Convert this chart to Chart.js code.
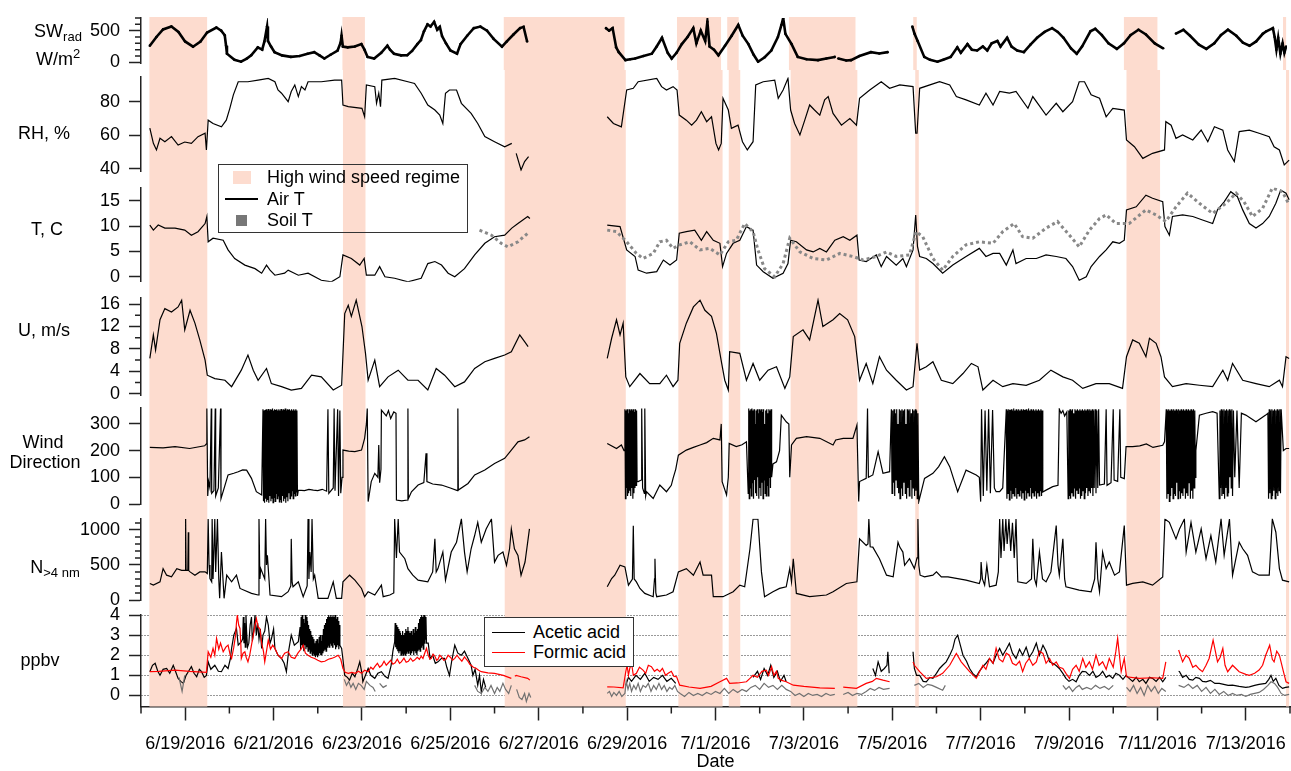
<!DOCTYPE html>
<html>
<head>
<meta charset="utf-8">
<script src="https://cdn.jsdelivr.net/npm/chart.js@4.4.0/dist/chart.umd.min.js"></script>
<style>
  body { margin: 0; background: #fff; width: 1291px; height: 771px; overflow: hidden; position: relative;
         font-family: "Liberation Sans", Arial, Helvetica, sans-serif; color: #000; }
  canvas { position: absolute; left: 0; z-index: 1; }
  .lab { position: absolute; font-size: 18px; line-height: 1; transform: translate(-50%, -50%); white-space: nowrap; z-index: 2; }
  .lab .sub { font-size: 13px; position: relative; top: 4px; }
  .lab .sup { font-size: 13px; position: relative; top: -7px; }
  .box { position: absolute; box-sizing: border-box; border: 1px solid #333; z-index: 2; }
  .lt { position: absolute; font-size: 18px; line-height: 1; transform: translateY(-50%); white-space: nowrap; z-index: 3; }
  .mk { position: absolute; z-index: 3; }
</style>
</head>
<body>
<canvas id="cSW"></canvas>
<canvas id="cRH"></canvas>
<canvas id="cT"></canvas>
<canvas id="cU"></canvas>
<canvas id="cWD"></canvas>
<canvas id="cN"></canvas>
<canvas id="cP"></canvas>

<div class="lab" style="left:58px;top:31px">SW<span class="sub">rad</span></div>
<div class="lab" style="left:58px;top:59px">W/m<span class="sup">2</span></div>
<div class="lab" style="left:44px;top:133px">RH, %</div>
<div class="lab" style="left:47px;top:229px">T, C</div>
<div class="lab" style="left:44px;top:330px">U, m/s</div>
<div class="lab" style="left:43px;top:442px">Wind</div>
<div class="lab" style="left:45px;top:462px">Direction</div>
<div class="lab" style="left:55px;top:567px">N<span class="sub">&gt;4 nm</span></div>
<div class="lab" style="left:40px;top:660px">ppbv</div>

<div class="box" style="left:218px;top:164px;width:250px;height:69px;"></div>
<div class="mk" style="left:233px;top:171px;width:18px;height:13px;background:#fddccf"></div>
<div class="lt" style="left:267px;top:177px">High wind speed regime</div>
<div class="mk" style="left:225px;top:198px;width:33px;height:1.5px;background:#000"></div>
<div class="lt" style="left:267px;top:199px">Air T</div>
<div class="mk" style="left:236px;top:215px;width:11px;height:11px;background:#777"></div>
<div class="lt" style="left:267px;top:220px">Soil T</div>

<div class="box" style="left:484px;top:617px;width:150px;height:50px;background:#fff"></div>
<div class="mk" style="left:492px;top:631.5px;width:33px;height:1.5px;background:#000"></div>
<div class="lt" style="left:533px;top:632px">Acetic acid</div>
<div class="mk" style="left:492px;top:651.5px;width:33px;height:1.5px;background:#f00"></div>
<div class="lt" style="left:533px;top:652px">Formic acid</div>

<script>
// time axis: days since 6/18/2016 00:00
const xTickDays = [1, 3, 5, 7, 9, 11, 13, 15, 17, 19, 21, 23, 25];
const xTickLabels = ["6/19/2016", "6/21/2016", "6/23/2016", "6/25/2016", "6/27/2016", "6/29/2016", "7/1/2016",
  "7/3/2016", "7/5/2016", "7/7/2016", "7/9/2016", "7/11/2016", "7/13/2016"];
const xMinorDays = [0, 2, 4, 6, 8, 10, 12, 14, 16, 18, 20, 22, 24, 26];

const highWindRegimes = [[0.19, 1.5], [4.57, 5.08], [8.23, 10.97], [12.16, 13.16], [13.3, 13.56],
  [14.7, 16.21], [17.52, 17.6], [22.3, 23.06], [25.91, 25.98]];

const swTicks = [0, 500], swMinor = [100, 200, 300, 400, 600, 700];
const rhTicks = [40, 60, 80];
const tTicks = [0, 5, 10, 15];
const uTicks = [0, 4, 8, 12, 16], uMinor = [2, 6, 10, 14];
const wdTicks = [0, 100, 200, 300];
const nTicks = [0, 500, 1000], nMinor = [100, 200, 300, 400, 600, 700, 800, 900, 1100];
const ppbvTicks = [0, 1, 2, 3, 4];

const swRad = [[0.2,262],[0.35,400],[0.5,520],[0.69,565],[0.85,480],[1.0,330],[1.18,247],[1.35,330],[1.5,470],
  [1.71,550],[1.82,500],[1.9,428],[1.93,262],[1.95,136],[2.12,40],[2.27,10],[2.4,60],[2.5,112],[2.65,237],[2.75,200],
  [2.8,330],[2.86,565],[2.88,338],[2.95,250],[3.03,161],[3.2,110],[3.4,86],[3.6,100],[3.78,136],[3.93,161],[4.05,110],
  [4.16,60],[4.3,120],[4.46,186],[4.53,313],[4.55,420],[4.58,250],[4.69,237],[4.85,250],[5.0,288],[5.07,200],[5.14,86],
  [5.29,60],[5.45,150],[5.59,262],[5.65,200],[5.74,136],[5.9,110],[6.04,111],[6.15,180],[6.27,288],[6.35,350],[6.42,490],
  [6.5,600],[6.57,565],[6.65,640],[6.72,515],[6.78,560],[6.83,414],[6.92,300],[7.02,187],[7.17,136],[7.25,288],[7.4,420],
  [7.55,540],[7.7,565],[7.85,500],[8.0,370],[8.19,247],[8.3,330],[8.45,439],[8.6,540],[8.68,560],[8.76,330],[8.8,null],
  [10.55,540],[10.62,500],[10.7,540],[10.78,237],[10.84,161],[10.99,35],[11.1,50],[11.21,60],[11.4,100],[11.59,136],
  [11.7,250],[11.82,388],[11.95,150],[12.04,60],[12.15,150],[12.27,288],[12.4,400],[12.53,540],[12.6,300],[12.7,500],
  [12.8,338],[12.85,640],[12.9,250],[13.0,200],[13.1,111],[13.25,262],[13.4,420],[13.55,590],[13.65,420],[13.78,288],
  [13.9,120],[14.0,10],[14.15,80],[14.3,186],[14.45,400],[14.53,590],[14.57,700],[14.62,450],[14.76,288],[14.9,86],
  [15.1,50],[15.36,35],[15.55,60],[15.74,86],[15.76,null],[15.82,60],[16.0,30],[16.11,35],[16.3,100],[16.56,161],
  [16.75,140],[16.94,161],[16.98,null],
  [17.5,565],[17.55,450],[17.62,338],[17.77,86],[17.9,40],[18.07,10],[18.2,40],[18.37,86],[18.52,237],[18.6,150],
  [18.75,288],[18.85,200],[18.97,187],[19.1,250],[19.2,187],[19.3,300],[19.43,338],[19.5,250],[19.65,388],[19.75,250],
  [19.88,187],[20.03,161],[20.18,280],[20.33,388],[20.5,480],[20.67,540],[20.8,480],[20.93,388],[21.1,220],[21.23,136],
  [21.35,250],[21.54,490],[21.65,530],[21.8,430],[21.95,300],[22.14,212],[22.3,300],[22.45,430],[22.63,515],[22.8,440],
  [23.0,300],[23.19,222],[23.22,null],[23.48,454],[23.65,515],[23.8,420],[24.0,280],[24.17,212],[24.35,300],[24.5,430],
  [24.66,515],[24.85,420],[25.0,310],[25.15,262],[25.3,330],[25.45,450],[25.53,490],[25.68,540],[25.72,400],[25.76,200],
  [25.8,388],[25.85,136],[25.9,300],[25.94,150],[25.98,250]];

const relHum = [[0.2,64.3],[0.28,55.2],[0.35,51.3],[0.43,58.2],[0.54,56.2],[0.69,59.2],[0.84,54.2],[0.99,56],[1.14,55.2],
  [1.29,59.2],[1.45,61.2],[1.48,51.3],[1.52,69],[1.63,67],[1.82,65],[1.93,69],[2.01,76],[2.09,84],[2.2,91.8],[2.42,91.8],
  [2.65,92.8],[2.88,93.8],[3.03,91.8],[3.1,86.9],[3.18,85],[3.33,80],[3.4,86],[3.48,89.9],[3.56,83],[3.63,88.9],
  [3.71,86.9],[3.78,91.8],[4.08,91.8],[4.38,92.8],[4.54,92.8],[4.57,78],[4.69,77],[5.0,76],[5.06,71],[5.1,89.9],
  [5.29,88.9],[5.33,79],[5.38,85],[5.42,77],[5.45,92.8],[5.74,93.8],[6.04,91.8],[6.19,90.8],[6.34,85],[6.49,78],
  [6.65,75],[6.76,72],[6.83,67],[6.89,85],[6.98,86.9],[7.14,86.9],[7.25,79],[7.47,73],[7.62,67],[7.78,59.2],[8.0,56.2],
  [8.23,53.2],[8.39,55.2],[8.42,null],[8.49,49.3],[8.6,39.4],[8.68,44.4],[8.77,47.3],[8.8,null],
  [10.55,71],[10.69,67],[10.87,65],[10.99,86.9],[11.14,87.9],[11.25,91.8],[11.67,93.8],[11.78,88.9],[11.89,86.9],
  [12.04,88.9],[12.13,86.9],[12.18,72],[12.34,69],[12.46,66],[12.57,69],[12.68,74],[12.8,68.1],[12.91,71],[13.01,55.2],
  [13.07,51.3],[13.13,55.2],[13.17,82],[13.29,75],[13.36,64.1],[13.51,66],[13.61,56.2],[13.72,51.3],[13.85,56.2],
  [13.91,89.9],[14.08,91.8],[14.34,92.8],[14.42,82],[14.53,86.9],[14.64,93.8],[14.7,75],[14.79,67],[14.91,60.2],
  [15.02,69],[15.13,78],[15.24,75],[15.36,72],[15.47,81],[15.55,83],[15.66,73],[15.85,66],[16.04,70],[16.19,66],
  [16.26,82],[16.49,86.9],[16.75,91.8],[16.94,87.9],[17.17,89.9],[17.47,88.9],[17.53,61.2],[17.56,61.2],[17.62,87.9],
  [18.07,91.8],[18.3,89.9],[18.45,83],[18.67,81],[18.97,78],[19.12,85],[19.28,78],[19.43,86],[19.65,85],[19.8,86],
  [20.07,76],[20.18,83],[20.48,72],[20.71,79],[20.86,74],[21.08,80],[21.23,91.8],[21.35,91.8],[21.5,84],[21.69,82],
  [21.84,71],[21.99,76],[22.25,75],[22.3,57.2],[22.48,53.2],[22.67,46.3],[22.89,49.3],[23.16,51.3],[23.19,68.1],
  [23.31,66],[23.42,58.2],[23.57,60.2],[23.8,57.2],[23.99,63.1],[24.14,56.2],[24.29,65.1],[24.48,63.1],[24.59,51.3],
  [24.74,44.4],[24.85,62.2],[25.08,63.1],[25.3,61.2],[25.53,59.2],[25.64,53.2],[25.76,51.3],[25.87,42.4],[25.98,45.3]];

const airT = [[0.2,10.2],[0.28,9.2],[0.39,10.2],[0.54,9.6],[0.77,9.6],[0.99,9.2],[1.14,8.2],[1.29,8.9],[1.45,10.5],
  [1.49,11.9],[1.52,6.9],[1.63,7.6],[1.86,7.2],[1.97,5.3],[2.12,3.6],[2.35,2.3],[2.58,1.6],[2.73,0.7],[2.84,2.3],
  [2.92,1.3],[3.03,0.3],[3.25,0.7],[3.33,1.3],[3.56,0.3],[3.78,0.7],[4.08,-0.7],[4.31,-1.0],[4.5,0],[4.57,4.3],
  [4.76,3.6],[4.95,2.3],[5.05,3.6],[5.1,0.3],[5.29,0.3],[5.4,2.0],[5.52,0],[5.74,-0.3],[6.04,-1.0],[6.34,-0.3],
  [6.49,2.6],[6.65,3.0],[6.8,2.3],[6.95,0.7],[7.1,0],[7.32,1.6],[7.55,4.3],[7.78,6.6],[8.0,7.9],[8.23,8.2],[8.39,9.6],
  [8.53,10.5],[8.75,11.9],[8.8,11.5],[8.82,null],
  [10.55,10.2],[10.84,9.9],[10.99,5.3],[11.18,4.0],[11.25,1.3],[11.44,0.7],[11.67,1.0],[11.82,3.3],[11.97,2.3],
  [12.12,3.3],[12.18,8.6],[12.34,8.9],[12.53,9.2],[12.68,7.2],[12.8,8.9],[12.95,7.2],[13.1,6.6],[13.16,2.0],[13.25,4.6],
  [13.4,6.6],[13.55,7.2],[13.7,9.9],[13.85,9.2],[13.93,2.3],[14.08,1.0],[14.3,-0.3],[14.53,0.7],[14.64,2.6],[14.7,7.2],
  [14.83,6.9],[15.06,5.3],[15.21,4.9],[15.36,5.6],[15.51,4.9],[15.7,7.2],[15.89,7.9],[16.04,7.2],[16.2,8.2],[16.25,3.3],
  [16.41,3.0],[16.64,4.3],[16.75,2.0],[16.87,4.0],[17.09,2.3],[17.24,3.6],[17.32,2.0],[17.47,5.3],[17.53,12.2],
  [17.57,6],[17.62,4.0],[17.77,3.6],[17.92,2.6],[18.14,0.7],[18.37,2.3],[18.67,4.0],[18.97,5.6],[19.12,4.0],[19.28,4.6],
  [19.43,4.6],[19.58,2.3],[19.73,5.3],[19.8,2.6],[20.03,3.6],[20.26,3.6],[20.48,4.3],[20.71,4.0],[20.93,3.6],[21.08,2.0],
  [21.23,-0.7],[21.39,0],[21.5,2.0],[21.69,4.0],[21.84,5.3],[21.99,6.9],[22.14,6.6],[22.25,7.2],[22.3,13.2],[22.52,13.8],
  [22.74,16.1],[22.89,15.5],[23.12,14.8],[23.17,9.9],[23.27,8.2],[23.34,11.9],[23.57,12.2],[23.8,11.9],[24.02,11.2],
  [24.25,10.5],[24.36,13.2],[24.51,14.8],[24.66,16.8],[24.81,15.8],[24.93,13.2],[25.08,10.5],[25.23,9.6],[25.38,10.5],
  [25.53,11.9],[25.68,14.5],[25.79,17.1],[25.91,16.5],[25.98,15.2]];

const soilT = [[7.66,9.2],[7.93,8.2],[8.15,6.6],[8.3,5.9],[8.53,6.9],[8.79,8.9],[8.82,null],
  [10.55,9.2],[10.76,8.9],[10.99,6.9],[11.21,4.6],[11.36,3.6],[11.59,4.6],[11.74,6.9],[11.89,7.2],[12.04,5.6],
  [12.19,6.3],[12.42,6.9],[12.65,5.3],[12.87,5.6],[13.1,4.3],[13.29,6.9],[13.47,7.2],[13.66,10.5],[13.85,8.9],
  [13.96,5.3],[14.11,1.6],[14.34,0],[14.53,2.6],[14.68,7.6],[14.91,4.9],[15.21,3.6],[15.51,3.3],[15.81,4.6],[16.11,4.0],
  [16.34,3.3],[16.64,4.0],[16.87,4.9],[17.09,4.0],[17.39,4.3],[17.54,8.9],[17.69,7.9],[17.92,3.6],[18.14,1.3],
  [18.37,4.0],[18.67,6.3],[18.97,6.9],[19.28,6.6],[19.5,8.9],[19.76,10.5],[19.95,7.9],[20.18,7.6],[20.48,9.6],
  [20.74,10.9],[21.01,8.2],[21.23,5.9],[21.46,9.2],[21.69,11.5],[21.84,12.2],[22.06,10.5],[22.36,10.5],[22.74,13.2],
  [22.97,12.2],[23.19,10.9],[23.42,13.8],[23.68,16.5],[23.95,14.5],[24.25,12.5],[24.55,14.5],[24.78,16.5],[24.96,14.8],
  [25.15,11.9],[25.38,13.5],[25.6,17.5],[25.83,16.8],[25.98,14.2]];

const windSpeed = [[0.2,6.3],[0.28,10.5],[0.33,7.8],[0.43,13.2],[0.54,15.2],[0.69,14.6],[0.84,15.5],[0.92,16.7],
  [0.99,11.4],[1.11,14.9],[1.22,12.6],[1.33,9.6],[1.45,6.0],[1.5,3.3],[1.67,2.7],[1.9,2.4],[2.05,1.25],[2.27,4.2],
  [2.42,6.9],[2.54,4.2],[2.65,2.4],[2.84,4.5],[2.95,1.8],[3.18,1.25],[3.4,0.65],[3.63,0.95],[3.86,3.3],[4.08,3.0],
  [4.35,0.65],[4.54,1.5],[4.61,14.3],[4.69,15.8],[4.76,13.8],[4.87,16.7],[5.0,12],[5.08,7.2],[5.14,2.4],[5.29,6.0],
  [5.4,1.25],[5.59,3.0],[5.82,4.2],[6.04,2.4],[6.27,2.4],[6.49,0.65],[6.68,4.5],[6.87,3.3],[7.1,1.25],[7.32,2.1],
  [7.55,4.5],[7.78,5.7],[8.0,6.3],[8.23,6.9],[8.38,7.5],[8.57,10.5],[8.68,9.3],[8.76,8.4],[8.82,null],
  [10.55,6.3],[10.65,9.9],[10.76,13.2],[10.84,10.5],[10.91,12.6],[10.97,3.0],[11.06,1.25],[11.29,3.6],[11.51,1.8],
  [11.74,1.8],[11.89,3.3],[12.04,1.25],[12.15,2.4],[12.19,9.0],[12.34,12.6],[12.5,15.5],[12.65,16.7],[12.76,14.9],
  [12.91,13.8],[13.02,10.8],[13.14,5.4],[13.21,2.4],[13.29,0.65],[13.32,7.5],[13.55,7.2],[13.7,2.4],[13.85,5.4],
  [14.0,2.4],[14.19,4.2],[14.38,4.8],[14.57,0.95],[14.68,3.0],[14.76,10.2],[14.98,11.4],[15.13,9.6],[15.32,16.7],
  [15.43,12],[15.66,13.2],[15.81,14.3],[15.99,13.2],[16.15,10.2],[16.21,6.0],[16.26,2.4],[16.41,5.4],[16.56,1.8],
  [16.71,6.6],[16.87,4.2],[17.09,2.4],[17.32,0.65],[17.47,1.25],[17.56,9.0],[17.62,4.2],[17.77,4.8],[17.92,5.7],
  [18.11,2.4],[18.37,1.8],[18.6,3.6],[18.79,5.4],[18.94,4.8],[19.05,0.65],[19.28,2.4],[19.5,1.25],[19.73,1.8],
  [20.03,1.5],[20.33,2.4],[20.59,4.2],[20.86,3.0],[21.08,2.4],[21.31,0.95],[21.61,1.8],[21.91,1.8],[22.21,0.95],
  [22.3,6.6],[22.44,9.6],[22.59,9.0],[22.74,6.6],[22.82,9.9],[22.97,9.0],[23.08,6.6],[23.16,3.0],[23.34,1.25],
  [23.65,1.8],[23.95,1.5],[24.25,1.25],[24.48,4.2],[24.59,2.4],[24.7,5.4],[24.93,2.4],[25.23,1.8],[25.53,1.25],
  [25.76,2.4],[25.83,1.25],[25.91,6.6],[25.98,6.3]];

const windDir = [[0.2,212],[0.5,210],[0.77,215],[1.1,208],[1.44,218],[1.48,225],[1.49,358],[1.51,30],[1.53,84],
  [1.56,60],[1.59,358],[1.6,40],[1.65,50],[1.68,358],[1.69,30],[1.75,60],[1.8,358],[1.81,20],[1.9,70],[1.97,109],
  [2.1,115],[2.2,121],[2.3,128],[2.39,127],[2.5,96],[2.61,46],[2.73,34],
  [2.76,355],[2.772,10],[2.784,350],[2.796,5],[2.808,352],[2.82,20],[2.832,355],[2.844,8],[2.856,350],[2.868,15],
  [2.88,356],[2.892,5],[2.904,350],[2.916,30],[2.928,355],[2.94,10],[2.952,352],[2.964,20],[2.976,358],[2.988,5],
  [3.0,350],[3.012,25],[3.024,355],[3.036,10],[3.048,352],[3.06,40],[3.072,355],[3.084,20],[3.096,350],[3.108,30],
  [3.12,355],[3.132,8],[3.144,350],[3.156,15],[3.168,356],[3.18,5],[3.192,350],[3.204,30],[3.216,355],[3.228,10],
  [3.24,352],[3.252,20],[3.264,358],[3.276,5],[3.288,350],[3.3,25],[3.312,355],[3.324,10],[3.336,352],[3.348,40],
  [3.36,355],[3.372,20],[3.384,350],[3.396,30],[3.408,355],[3.42,50],[3.432,350],[3.444,20],[3.456,355],[3.468,40],
  [3.48,350],[3.492,30],[3.504,355],[3.516,45],[3.528,350],[3.54,30],
  [3.56,52],[3.7,50],[3.8,55],[3.9,52],[4.0,50],[4.1,55],[4.2,48],[4.23,355],[4.25,40],[4.35,60],[4.37,358],[4.39,50],
  [4.45,355],[4.47,30],[4.5,350],[4.52,40],[4.55,100],[4.57,202],[4.7,198],[4.84,196],[4.99,202],[5.06,246],[5.1,300],
  [5.12,358],[5.14,9],[5.21,84],[5.29,115],[5.36,100],[5.38,221],[5.4,80],[5.43,130],[5.44,352],[5.55,330],[5.6,350],
  [5.65,320],[5.72,345],[5.77,340],[5.78,15],[5.9,12],[6.03,15],[6.04,358],[6.05,20],[6.12,46],[6.27,71],[6.4,80],
  [6.45,190],[6.47,84],[6.6,75],[6.8,71],[7.0,60],[7.16,50],[7.17,358],[7.18,52],[7.4,77],[7.55,109],[7.78,127],
  [8.0,152],[8.23,171],[8.38,202],[8.53,233],[8.68,240],[8.79,252],[8.82,null],
  [10.55,227],[10.76,208],[10.87,221],[10.93,200],
  [10.95,355],[10.962,20],[10.974,350],[10.986,60],[10.998,355],[11.01,30],[11.022,340],[11.034,40],[11.046,355],
  [11.058,50],[11.07,350],[11.082,30],[11.094,355],[11.106,60],[11.118,350],[11.13,20],[11.142,355],[11.154,40],
  [11.166,345],[11.178,60],[11.19,355],[11.202,70],[11.214,350],[11.226,84],
  [11.25,84],[11.32,90],[11.33,358],[11.35,60],[11.39,40],[11.4,358],[11.42,30],[11.44,46],[11.59,21],[11.74,71],
  [11.89,46],[12.0,70],[12.04,96],[12.1,130],[12.16,183],[12.34,202],[12.5,212],[12.65,221],[12.8,230],[12.95,246],
  [13.1,240],[13.13,300],[13.15,84],[13.25,34],[13.29,100],[13.31,227],[13.47,215],[13.6,222],[13.7,233],
  [13.74,40],[13.752,358],[13.764,20],[13.776,350],[13.788,60],[13.8,355],[13.812,30],[13.824,358],[13.836,80],
  [13.848,350],[13.86,20],[13.872,355],[13.884,90],[13.896,300],[13.908,40],[13.92,350],[13.932,30],[13.944,355],
  [13.956,100],[13.968,340],[13.98,20],[13.992,355],[14.004,60],[14.016,350],[14.028,30],[14.04,355],[14.052,80],
  [14.064,345],[14.076,20],[14.088,355],[14.1,90],[14.112,300],[14.124,40],[14.136,350],[14.148,30],[14.16,355],
  [14.172,70],[14.184,340],[14.196,30],[14.208,355],[14.22,100],[14.232,350],[14.244,60],[14.256,355],[14.27,100],
  [14.3,150],[14.38,158],[14.45,200],[14.49,333],[14.6,308],[14.66,300],[14.68,100],[14.72,221],[14.83,246],[15.06,252],
  [15.36,246],[15.66,221],[15.72,240],[15.89,246],[16.11,246],[16.2,296],[16.24,9],[16.26,84],[16.41,96],[16.44,358],
  [16.46,100],[16.56,109],[16.68,196],[16.79,115],[16.94,121],
  [16.98,355],[16.995,40],[17.01,350],[17.025,80],[17.04,355],[17.055,30],[17.07,340],[17.085,90],[17.1,355],
  [17.115,60],[17.13,300],[17.145,40],[17.16,355],[17.175,20],[17.19,350],[17.205,60],[17.22,355],[17.235,30],
  [17.25,350],[17.265,80],[17.28,355],[17.295,40],[17.31,300],[17.325,20],[17.34,355],[17.355,60],[17.37,350],
  [17.385,30],[17.4,355],[17.415,90],[17.43,340],[17.445,20],[17.46,355],[17.475,60],[17.49,350],[17.505,30],
  [17.52,355],[17.535,50],[17.55,350],[17.565,20],[17.58,340],[17.6,9],
  [17.73,96],[17.92,115],[18.05,140],[18.18,177],[18.3,140],[18.48,46],[18.67,127],[18.9,109],[18.97,100],[19.0,9],
  [19.02,355],[19.06,30],[19.1,350],[19.14,50],[19.18,355],[19.22,40],[19.27,352],[19.31,60],[19.35,46],[19.43,46],
  [19.5,60],
  [19.58,355],[19.594,20],[19.608,350],[19.622,40],[19.636,355],[19.65,15],[19.664,352],[19.678,50],[19.692,355],
  [19.706,20],[19.72,350],[19.734,40],[19.748,358],[19.762,30],[19.776,350],[19.79,60],[19.804,355],[19.818,20],
  [19.832,350],[19.846,40],[19.86,355],[19.874,30],[19.888,350],[19.902,50],[19.916,355],[19.93,20],[19.944,350],
  [19.958,40],[19.972,355],[19.986,15],[20.0,352],[20.014,50],[20.028,355],[20.042,20],[20.056,350],[20.07,40],
  [20.084,358],[20.098,30],[20.112,350],[20.126,60],[20.14,355],[20.154,20],[20.168,350],[20.182,40],[20.196,355],
  [20.21,30],[20.224,350],[20.238,50],[20.252,355],[20.266,20],[20.28,350],[20.294,40],[20.308,355],[20.322,30],
  [20.336,350],[20.35,50],[20.364,355],[20.378,30],[20.392,350],[20.406,45],
  [20.48,52],[20.63,65],[20.75,70],[20.78,355],[20.82,340],[20.86,350],[20.9,330],[20.95,345],[20.98,20],[20.994,350],
  [21.008,30],[21.022,355],[21.036,20],[21.05,350],[21.064,40],[21.078,355],[21.092,30],[21.106,340],[21.12,60],
  [21.134,355],[21.148,20],[21.162,350],[21.176,50],[21.19,355],[21.204,40],[21.218,350],[21.232,60],[21.246,355],
  [21.26,20],[21.274,350],[21.288,30],[21.302,355],[21.316,50],[21.33,350],[21.344,20],[21.358,355],[21.372,40],
  [21.386,350],[21.4,60],[21.414,355],[21.428,30],[21.442,350],[21.456,50],[21.47,355],[21.484,40],[21.498,350],
  [21.512,60],[21.526,355],[21.54,30],[21.555,350],[21.57,60],[21.59,355],[21.61,40],[21.63,350],[21.65,60],[21.67,355],
  [21.69,71],[21.8,75],[21.84,355],[21.86,70],[21.95,80],[22.0,355],[22.02,90],[22.1,85],[22.15,355],[22.17,100],
  [22.25,95],[22.29,215],[22.44,215],[22.6,218],[22.75,225],[22.9,212],[23.12,220],[23.16,233],
  [23.2,355],[23.214,20],[23.228,350],[23.242,40],[23.256,355],[23.27,10],[23.284,350],[23.298,30],[23.312,355],
  [23.326,60],[23.34,350],[23.354,20],[23.368,355],[23.382,40],[23.396,350],[23.41,30],[23.424,355],[23.438,80],
  [23.452,350],[23.466,20],[23.48,355],[23.494,50],[23.508,350],[23.522,20],[23.536,355],[23.55,40],[23.564,350],
  [23.578,30],[23.592,355],[23.606,60],[23.62,350],[23.634,20],[23.648,355],[23.662,40],[23.676,350],[23.69,30],
  [23.704,355],[23.718,80],[23.732,350],[23.746,20],[23.76,355],[23.774,50],[23.788,350],[23.802,20],[23.816,355],
  [23.83,60],[23.845,350],[23.86,100],[23.87,200],
  [23.95,333],[24.1,340],[24.25,346],[24.35,340],[24.4,20],[24.415,350],[24.43,60],[24.445,355],[24.46,30],[24.475,350],
  [24.49,40],[24.505,355],[24.52,20],[24.535,350],[24.55,60],[24.565,355],[24.58,30],[24.595,350],[24.61,40],
  [24.625,355],[24.64,100],[24.655,350],[24.67,60],[24.685,355],[24.7,30],[24.72,350],[24.75,100],[24.8,350],[24.85,60],
  [24.9,340],[25.0,333],[25.23,308],[25.45,333],[25.5,340],[25.515,20],[25.53,355],[25.545,40],[25.56,350],[25.575,20],
  [25.59,355],[25.605,30],[25.62,350],[25.635,50],[25.65,355],[25.665,20],[25.68,350],[25.695,40],[25.71,355],
  [25.725,30],[25.74,350],[25.755,50],[25.77,355],[25.785,40],[25.8,355],[25.85,200],[25.91,208],[25.98,208]];

const nPart = [[0.2,236],[0.28,212],[0.43,259],[0.5,448],[0.58,354],[0.69,330],[0.81,448],[0.92,424],[1.0,424],
  [1.01,1155],[1.02,424],[1.06,424],[1.07,967],[1.08,420],[1.11,401],[1.22,354],[1.33,401],[1.45,401],[1.5,377],
  [1.52,1155],[1.54,500],[1.56,306],[1.6,259],[1.61,1155],[1.63,300],[1.67,1155],[1.69,400],[1.73,1155],[1.76,300],
  [1.78,24],[1.82,684],[1.88,24],[1.94,354],[2.05,259],[2.16,354],[2.24,165],[2.5,94],[2.65,71],[2.67,1155],[2.69,300],
  [2.71,448],[2.8,300],[2.82,1155],[2.84,500],[2.86,637],[2.92,71],[3.18,47],[3.33,118],[3.39,200],[3.4,872],[3.42,250],
  [3.44,189],[3.56,259],[3.67,47],[3.76,200],[3.78,1155],[3.8,300],[3.82,684],[3.85,400],[3.87,1155],[3.9,300],
  [3.93,354],[4.01,24],[4.23,24],[4.35,259],[4.42,24],[4.54,24],[4.57,259],[4.72,354],[4.84,283],[4.99,165],[5.06,47],
  [5.14,118],[5.29,71],[5.44,212],[5.48,47],[5.63,71],[5.72,100],[5.74,1155],[5.78,600],[5.82,1155],[5.85,684],
  [5.97,589],[6.04,448],[6.15,354],[6.27,283],[6.49,259],[6.6,400],[6.65,872],[6.68,400],[6.72,448],[6.83,684],
  [6.89,283],[7.02,684],[7.14,825],[7.25,1155],[7.32,684],[7.38,401],[7.47,731],[7.55,920],[7.62,1108],[7.7,825],
  [7.81,1014],[7.93,1155],[8.0,542],[8.08,637],[8.19,684],[8.27,495],[8.34,731],[8.38,1014],[8.45,731],[8.53,637],
  [8.6,354],[8.69,542],[8.79,1014],[8.82,null],
  [10.55,189],[10.65,306],[10.72,354],[10.84,495],[10.95,471],[11.03,212],[11.12,300],[11.14,1061],[11.16,300],
  [11.21,259],[11.29,165],[11.4,94],[11.59,47],[11.62,300],[11.63,589],[11.65,100],[11.67,47],[11.89,71],[12.04,118],
  [12.16,401],[12.34,448],[12.5,354],[12.65,542],[12.72,354],[12.91,354],[12.95,47],[13.17,47],[13.4,118],[13.55,212],
  [13.66,189],[13.78,731],[13.85,1155],[13.96,1155],[14.04,401],[14.11,47],[14.3,118],[14.45,165],[14.6,189],[14.68,448],
  [14.72,259],[14.76,589],[14.83,94],[15.13,47],[15.51,71],[15.66,118],[15.96,236],[16.2,259],[16.26,872],[16.41,778],
  [16.45,800],[16.47,1155],[16.5,760],[16.56,755],[16.71,589],[16.87,354],[17.02,330],[17.13,825],[17.17,755],
  [17.24,684],[17.28,495],[17.39,589],[17.5,448],[17.56,600],[17.58,1155],[17.6,500],[17.63,354],[17.73,330],[17.92,354],
  [18.0,401],[18.11,330],[18.26,330],[18.67,283],[18.97,236],[19.0,300],[19.01,542],[19.04,300],[19.09,212],[19.14,495],
  [19.2,189],[19.35,212],[19.4,400],[19.43,1155],[19.46,600],[19.5,1155],[19.53,700],[19.57,1155],[19.6,800],
  [19.64,1155],[19.68,700],[19.72,1100],[19.76,600],[19.8,1155],[19.84,259],[20.03,236],[20.15,300],[20.18,872],
  [20.22,300],[20.26,212],[20.33,684],[20.4,300],[20.48,259],[20.59,401],[20.71,1061],[20.75,500],[20.78,354],
  [20.86,872],[20.9,300],[20.93,189],[21.23,141],[21.5,118],[21.58,300],[21.61,825],[21.65,300],[21.69,118],[21.76,684],
  [21.84,448],[21.91,542],[22.03,354],[22.14,401],[22.25,1061],[22.3,212],[22.44,236],[22.67,259],[22.89,212],
  [23.12,330],[23.17,1155],[23.27,1108],[23.42,872],[23.5,1014],[23.61,1155],[23.65,684],[23.76,1108],[23.87,684],
  [23.99,1014],[24.1,589],[24.21,920],[24.32,542],[24.44,1155],[24.51,637],[24.63,1155],[24.7,354],[24.85,825],
  [24.93,731],[25.04,637],[25.15,401],[25.3,354],[25.53,354],[25.6,1155],[25.68,967],[25.76,448],[25.83,283],[25.98,259]];

const aceticAcid = [[0.2,1.18],[0.26,1.5],[0.32,1.6],[0.38,1.2],[0.43,1.0],[0.5,1.3],[0.58,1.34],[0.65,1.1],[0.73,1.5],
  [0.78,1.2],[0.84,0.85],[0.9,0.7],[0.96,0.6],[1.02,1.0],[1.07,1.18],[1.14,1.43],[1.2,1.1],[1.26,0.93],[1.32,1.3],
  [1.37,1.18],[1.43,0.9],[1.48,1.0],[1.52,1.67],[1.58,1.3],[1.67,1.5],[1.75,1.2],[1.82,1.18],[1.9,1.5],[1.97,1.34],
  [2.02,1.8],[2.05,2.34],[2.1,3.0],[2.16,3.33],[2.2,2.5],[2.27,2.67],[2.3,2.8],[2.315,3.9],[2.33,2.6],[2.345,3.6],
  [2.36,2.4],[2.375,4.0],[2.39,3.17],[2.41,2.4],[2.44,2.6],[2.47,3.5],[2.5,3.9],[2.52,2.7],[2.55,3.2],[2.58,4.0],
  [2.61,3.0],[2.64,3.6],[2.67,2.8],[2.7,3.3],[2.73,2.34],[2.76,3.0],[2.8,3.2],[2.84,3.9],[2.88,3.5],[2.92,2.6],
  [2.95,2.8],[3.0,3.3],[3.03,2.34],[3.1,2.0],[3.18,1.84],[3.24,1.6],[3.29,1.18],[3.34,2.2],[3.4,3.0],[3.47,2.5],
  [3.56,2.67],
  [3.6,3.4],[3.612,2.3],[3.624,3.9],[3.636,2.5],[3.648,4.0],[3.66,2.4],[3.672,3.8],[3.684,2.2],[3.696,3.6],[3.708,2.5],
  [3.72,4.0],[3.732,2.3],[3.744,3.9],[3.756,2.4],[3.768,3.7],[3.78,2.2],[3.792,3.5],[3.804,2.3],[3.816,3.3],[3.828,2.1],
  [3.84,3.2],[3.852,2.2],[3.864,3.0],[3.876,2.0],[3.888,2.9],[3.9,2.1],[3.912,2.8],[3.924,2.0],[3.936,2.6],[3.948,1.9],
  [3.96,2.7],[3.972,2.0],[3.984,2.8],[3.996,1.9],[4.008,2.6],[4.02,2.0],[4.032,2.9],[4.044,2.1],[4.056,3.0],[4.068,2.0],
  [4.08,2.7],[4.092,2.0],[4.104,3.0],[4.116,2.1],[4.128,3.3],[4.14,2.2],[4.152,3.5],[4.164,2.3],[4.176,3.6],[4.188,2.2],
  [4.2,3.8],[4.212,2.4],[4.224,3.9],[4.236,2.5],[4.248,4.0],[4.26,2.4],[4.272,3.9],[4.284,2.6],[4.296,4.0],[4.308,2.5],
  [4.32,3.9],[4.332,2.4],[4.344,4.0],[4.356,2.6],[4.368,3.9],[4.38,2.5],[4.392,4.0],[4.404,2.3],[4.416,3.8],[4.428,2.4],
  [4.44,3.9],[4.452,2.5],[4.464,3.7],[4.476,2.3],[4.488,3.5],[4.5,2.5],
  [4.54,2.34],[4.58,1.6],[4.61,1.0],[4.67,0.9],[4.72,0.76],[4.78,1.1],[4.84,0.93],[4.9,1.3],[4.95,1.67],[5.0,1.1],
  [5.02,0.68],[5.08,1.0],[5.14,1.34],[5.2,1.0],[5.29,0.85],[5.36,1.1],[5.44,1.18],[5.52,0.95],[5.59,0.85],[5.66,1.5],
  [5.7,2.2],
  [5.74,2.67],[5.752,3.6],[5.764,2.4],[5.776,3.5],[5.788,2.3],[5.8,3.4],[5.812,2.2],[5.824,3.3],[5.836,2.1],[5.848,3.2],
  [5.86,2.2],[5.872,3.1],[5.884,2.0],[5.896,3.0],[5.908,2.1],[5.92,3.2],[5.932,2.0],[5.944,3.0],[5.956,2.1],[5.968,3.1],
  [5.98,2.0],[5.992,3.3],[6.004,2.1],[6.016,3.2],[6.028,2.2],[6.04,3.4],[6.052,2.1],[6.064,3.2],[6.076,2.2],[6.088,3.1],
  [6.1,2.0],[6.112,3.2],[6.124,2.1],[6.136,3.0],[6.148,2.2],[6.16,3.3],[6.172,2.0],[6.184,3.1],[6.196,2.2],[6.208,3.4],
  [6.22,2.1],[6.232,3.2],[6.244,2.0],[6.256,3.3],[6.268,2.2],[6.28,3.6],[6.292,2.3],[6.304,3.8],[6.316,2.2],[6.328,3.9],
  [6.34,2.4],[6.352,4.0],[6.364,2.5],[6.376,3.9],[6.388,2.3],[6.4,4.0],[6.412,2.6],[6.424,4.0],[6.436,2.8],[6.448,3.9],
  [6.46,2.6],[6.5,2.6],
  [6.54,1.84],[6.6,2.0],[6.66,1.6],[6.72,1.67],[6.8,1.84],[6.87,1.84],[6.92,1.4],[6.98,1.0],[7.03,1.7],[7.1,2.5],
  [7.17,2.1],[7.25,2.0],[7.32,2.2],[7.4,1.84],[7.47,1.5],[7.51,1.0],[7.56,1.3],[7.62,0.51],[7.66,1.0],[7.7,0.18],
  [7.75,0.8],[7.8,0.4],[7.85,null],
  [10.97,0.5],[11.03,0.9],[11.1,0.7],[11.2,1.0],[11.3,0.8],[11.4,1.1],[11.5,0.7],[11.6,0.9],[11.7,0.8],[11.8,1.0],
  [11.9,0.7],[12.0,0.85],[12.1,0.6],[12.15,null],
  [13.85,0.9],[13.95,1.2],[14.02,0.8],[14.1,1.34],[14.18,1.0],[14.25,1.5],[14.32,0.9],[14.4,1.2],[14.47,0.7],[14.55,1.0],
  [14.6,0.68],[14.62,null],
  [16.56,1.34],[16.62,1.0],[16.68,1.67],[16.75,1.2],[16.82,1.34],[16.88,1.5],[16.9,2.17],[16.93,1.1],[16.95,null],
  [17.47,2.17],[17.5,1.34],[17.55,1.0],[17.62,1.0],[17.7,0.7],[17.77,0.68],[17.85,0.9],[17.92,0.85],[18.0,1.1],
  [18.07,1.34],[18.14,1.5],[18.22,1.67],[18.3,2.0],[18.37,2.34],[18.42,2.8],[18.48,3.0],[18.54,2.5],[18.6,2.0],
  [18.68,1.7],[18.75,1.34],[18.82,1.1],[18.9,0.93],[18.97,1.2],[19.05,1.43],[19.12,1.6],[19.2,1.84],[19.28,1.6],
  [19.35,2.0],[19.43,2.34],[19.5,2.0],[19.58,2.3],[19.65,2.59],[19.72,2.1],[19.8,1.84],[19.88,2.3],[19.95,2.0],
  [20.03,2.4],[20.1,1.9],[20.18,2.17],[20.26,2.6],[20.33,2.0],[20.41,2.5],[20.48,2.2],[20.56,1.67],[20.63,1.6],
  [20.7,1.5],[20.78,1.34],[20.86,1.1],[20.93,0.85],[21.0,0.7],[21.08,0.8],[21.16,0.68],[21.23,1.0],[21.3,1.2],
  [21.38,1.18],[21.46,1.0],[21.54,1.2],[21.61,0.9],[21.69,1.0],[21.76,1.2],[21.84,0.9],[21.91,1.0],[21.99,0.85],
  [22.06,1.1],[22.14,1.0],[22.22,0.8],[22.29,1.0],[22.36,0.85],[22.44,0.7],[22.52,0.9],[22.59,0.68],[22.67,0.8],
  [22.74,0.6],[22.82,0.9],[22.89,0.85],[22.97,0.7],[23.05,0.9],[23.12,0.68],[23.19,0.9],[23.22,null],
  [23.48,1.2],[23.5,1.18],[23.57,0.9],[23.65,1.0],[23.72,0.8],[23.8,0.76],[23.87,0.9],[23.95,0.85],[24.02,0.7],
  [24.1,0.68],[24.2,0.75],[24.3,0.6],[24.4,0.6],[24.5,0.55],[24.6,0.5],[24.7,0.51],[24.85,0.45],[25.0,0.4],[25.08,0.43],
  [25.2,0.5],[25.3,0.55],[25.45,0.6],[25.52,0.8],[25.57,1.0],[25.62,0.7],[25.68,0.85],[25.75,0.5],[25.83,0.35],
  [25.9,0.4],[25.98,0.43]];

const formicAcid = [[0.2,1.18],[0.4,1.2],[0.77,1.26],[1.1,1.2],[1.48,1.15],[1.52,2.17],[1.58,1.9],[1.63,2.34],[1.67,2.0],
  [1.71,2.84],[1.76,2.3],[1.8,2.6],[1.86,2.17],[1.92,2.4],[1.97,2.5],[2.02,2.0],[2.05,1.84],[2.1,2.4],[2.14,3.0],
  [2.16,3.6],[2.18,4.0],[2.21,3.5],[2.24,3.33],[2.26,2.5],[2.27,1.84],[2.31,2.1],[2.35,2.17],[2.38,1.9],[2.42,1.67],
  [2.46,2.0],[2.5,2.5],[2.55,3.1],[2.58,3.5],[2.61,3.83],[2.65,3.4],[2.69,3.33],[2.73,2.6],[2.77,2.2],[2.8,1.67],
  [2.84,2.2],[2.88,2.75],[2.93,2.3],[2.98,2.5],[3.03,2.34],[3.1,2.0],[3.18,1.84],[3.25,2.1],[3.33,2.17],[3.4,1.9],
  [3.48,1.84],[3.55,2.1],[3.62,2.3],[3.67,2.5],[3.72,2.1],[3.78,2.0],[3.85,1.9],[3.93,1.84],[4.0,1.75],[4.08,1.67],
  [4.16,1.7],[4.24,1.8],[4.31,1.84],[4.38,1.9],[4.46,2.0],[4.52,1.8],[4.57,1.34],[4.62,1.15],[4.69,1.1],[4.77,1.15],
  [4.85,1.1],[4.92,1.2],[4.99,1.1],[5.06,1.25],[5.14,1.18],[5.2,1.4],[5.25,1.3],[5.29,1.43],[5.35,1.6],[5.4,1.4],
  [5.45,1.5],[5.5,1.7],[5.55,1.5],[5.59,1.6],[5.65,1.75],[5.7,1.55],[5.75,1.62],[5.8,1.8],[5.85,1.6],[5.89,1.67],
  [5.95,1.85],[6.0,1.65],[6.05,1.7],[6.1,1.85],[6.15,1.7],[6.19,1.76],[6.25,1.9],[6.3,1.8],[6.34,1.95],[6.38,1.84],
  [6.42,2.1],[6.46,2.34],[6.5,2.0],[6.54,1.8],[6.57,1.84],[6.61,2.05],[6.65,1.95],[6.69,1.75],[6.72,1.8],[6.76,2.0],
  [6.8,1.92],[6.85,1.75],[6.9,1.8],[6.95,2.0],[7.0,1.9],[7.05,1.75],[7.1,1.84],[7.15,2.0],[7.2,1.85],[7.26,1.7],
  [7.32,1.92],[7.36,1.8],[7.4,1.7],[7.44,1.55],[7.47,1.5],[7.52,1.4],[7.58,1.35],[7.64,1.25],[7.7,1.18],[7.85,1.12],
  [8.0,1.1],[8.2,1.0],[8.38,0.85],[8.42,null],[8.46,0.95],[8.49,1.0],[8.6,0.93],[8.75,0.85],[8.8,0.76],[8.83,null],
  [10.55,0.43],[10.7,0.42],[10.91,0.38],[10.97,1.18],[11.0,1.5],[11.03,1.0],[11.06,1.34],[11.1,1.6],[11.14,1.0],
  [11.21,1.1],[11.28,1.4],[11.36,1.26],[11.42,1.1],[11.48,1.5],[11.55,1.43],[11.62,1.2],[11.68,1.3],[11.74,1.18],
  [11.8,1.35],[11.87,1.0],[11.93,1.1],[12.0,1.2],[12.06,0.95],[12.12,0.93],[12.19,0.51],[12.4,0.42],[12.65,0.35],
  [12.9,0.45],[13.1,0.68],[13.25,0.85],[13.32,0.6],[13.5,0.62],[13.7,0.68],[13.78,0.85],[13.85,1.0],[13.95,0.9],
  [14.05,1.2],[14.15,1.26],[14.2,1.0],[14.27,1.43],[14.32,1.0],[14.38,1.2],[14.42,0.85],[14.5,0.75],[14.6,0.68],
  [14.76,0.51],[15.0,0.45],[15.36,0.38],[15.7,0.35],[15.74,null],[15.89,0.41],[16.19,0.35],[16.41,0.6],[16.55,0.7],
  [16.64,0.85],[16.79,0.76],[16.94,0.68],[16.96,null],
  [17.47,1.67],[17.5,1.5],[17.62,1.18],[17.77,0.85],[18.0,0.93],[18.14,1.1],[18.3,1.5],[18.45,2.09],[18.56,1.67],
  [18.75,1.18],[18.9,0.85],[19.05,1.5],[19.12,1.3],[19.2,1.84],[19.28,1.6],[19.35,2.34],[19.42,1.8],[19.5,1.67],
  [19.58,2.1],[19.65,2.0],[19.72,1.6],[19.8,1.5],[19.88,1.7],[19.95,1.18],[20.02,1.6],[20.1,1.84],[20.18,1.5],
  [20.26,1.67],[20.33,2.2],[20.41,2.09],[20.48,1.6],[20.56,1.84],[20.63,1.5],[20.71,1.67],[20.78,1.4],[20.86,1.34],
  [20.93,1.1],[21.01,0.85],[21.08,1.3],[21.16,1.5],[21.23,1.2],[21.31,1.84],[21.38,1.4],[21.46,1.67],[21.53,1.3],
  [21.61,2.0],[21.68,1.5],[21.76,1.67],[21.84,1.3],[21.91,1.84],[22.0,1.4],[22.06,2.2],[22.1,2.84],[22.14,2.0],
  [22.18,1.18],[22.25,1.84],[22.3,0.93],[22.59,0.85],[22.89,0.88],[23.12,0.85],[23.19,1.67],[23.22,null],
  [23.48,2.26],[23.57,1.67],[23.65,2.0],[23.72,1.84],[23.8,1.4],[23.87,1.5],[23.95,1.3],[24.02,1.18],[24.1,1.5],
  [24.17,1.84],[24.26,2.75],[24.36,1.67],[24.42,1.9],[24.48,2.34],[24.53,1.5],[24.59,1.18],[24.7,1.5],[24.85,1.18],
  [25.0,1.05],[25.08,1.0],[25.2,1.1],[25.3,1.26],[25.38,1.5],[25.45,2.0],[25.54,2.5],[25.6,1.8],[25.64,1.67],
  [25.7,2.2],[25.76,2.0],[25.85,1.2],[25.91,0.68],[25.98,0.6]];

const aceticLow = [[0.86,0.9],[0.9,0.5],[0.93,0.2],[0.96,0.6],[0.99,1.0],[1.0,null],
  [4.6,0.8],[4.65,0.5],[4.7,0.7],[4.75,0.4],[4.8,0.6],[4.86,0.3],[4.92,0.6],[4.98,0.5],[5.05,0.3],[5.1,0.7],[5.18,0.5],
  [5.25,0.4],[5.3,0.2],[5.33,null],[5.4,0.6],[5.48,0.4],[5.56,0.5],[5.6,null],
  [7.55,0.5],[7.62,0.2],[7.7,0.1],[7.78,0.4],[7.85,0.2],[7.92,0.5],[8.0,0.1],[8.06,0.4],[8.12,0.2],[8.19,0.6],[8.25,0.3],
  [8.32,0.1],[8.38,0.5],[8.42,null],[8.5,0.3],[8.56,-0.1],[8.62,-0.2],[8.68,0.1],[8.72,-0.3],[8.78,0.1],[8.82,-0.1],
  [8.84,null],
  [10.55,0.1],[10.6,0.2],[10.65,-0.05],[10.7,0.15],[10.76,0.0],[10.82,0.2],[10.88,-0.05],[10.95,0.1],[10.98,0.7],
  [11.02,0.3],[11.06,0.6],[11.1,0.2],[11.15,0.5],[11.2,0.3],[11.25,0.6],[11.3,0.2],[11.36,0.5],[11.42,0.4],[11.48,0.6],
  [11.54,0.2],[11.6,0.5],[11.66,0.3],[11.72,0.6],[11.78,0.3],[11.84,0.5],[11.9,0.2],[11.96,0.4],[12.02,0.3],[12.08,0.5],
  [12.14,0.2],[12.2,0.1],[12.3,-0.05],[12.4,0.15],[12.5,0.0],[12.6,0.1],[12.7,0.0],[12.8,0.15],[12.9,0.05],[13.0,0.2],
  [13.1,0.1],[13.2,0.35],[13.3,0.1],[13.4,0.3],[13.5,0.15],[13.6,0.3],[13.7,0.2],[13.8,0.4],[13.9,0.5],[14.0,0.3],
  [14.1,0.6],[14.2,0.4],[14.3,0.5],[14.4,0.3],[14.5,0.5],[14.6,0.3],[14.7,0.2],[14.8,0.0],[14.9,0.1],[15.0,-0.05],
  [15.1,0.1],[15.2,0.0],[15.3,0.05],[15.4,-0.05],[15.5,0.1],[15.6,0.0],[15.7,0.05],[15.74,null],[15.89,0.05],[16.0,0.15],
  [16.1,0.0],[16.2,0.1],[16.3,0.05],[16.41,0.2],[16.5,0.35],[16.6,0.25],[16.7,0.4],[16.8,0.3],[16.94,0.35],[16.96,null],
  [17.5,0.5],[17.6,0.6],[17.7,0.4],[17.8,0.55],[17.9,0.5],[18.0,0.4],[18.14,0.26],[18.2,0.5],[18.25,null],
  [20.86,0.5],[20.93,0.3],[21.0,0.45],[21.08,0.2],[21.16,0.4],[21.23,0.5],[21.3,0.3],[21.4,0.4],[21.5,0.3],[21.6,0.5],
  [21.7,0.35],[21.8,0.45],[21.9,0.3],[22.0,0.5],[22.05,null],
  [22.3,0.4],[22.38,0.2],[22.46,0.5],[22.54,0.1],[22.62,0.4],[22.7,0.0],[22.78,0.5],[22.86,0.2],[22.94,0.45],[23.02,0.1],
  [23.1,0.35],[23.19,0.2],[23.22,null],
  [23.48,0.5],[23.6,0.4],[23.7,0.55],[23.8,0.35],[23.9,0.5],[24.0,0.2],[24.1,0.4],[24.2,0.1],[24.3,0.3],[24.4,0.05],
  [24.5,0.2],[24.6,0.0],[24.7,0.1],[24.8,0.0],[24.9,0.05],[25.0,-0.05],[25.1,0.05],[25.2,0.1],[25.3,0.15],[25.4,0.3],
  [25.5,0.5],[25.57,0.68],[25.65,0.6],[25.72,0.4],[25.8,0.1],[25.88,0.0],[25.98,0.05]];

const FONT = '"Liberation Sans", Arial, Helvetica, sans-serif';
const SHADE = '#fddccf';
const AX = '#222';

// pink regime bands, painted over the grid but under the data
const shadePlugin = {
  id: 'shade',
  beforeDatasetsDraw(chart, args, o) {
    const { ctx, chartArea: ca, scales: { x } } = chart;
    const y0 = o.first ? ca.top - 1 : 0;
    const y1 = o.last ? ca.bottom : chart.height;
    ctx.save();
    ctx.fillStyle = SHADE;
    highWindRegimes.forEach(([a, b]) => {
      const xa = x.getPixelForValue(a), xb = x.getPixelForValue(b);
      ctx.fillRect(xa, y0, Math.max(xb - xa, 2), y1 - y0);
    });
    ctx.restore();
  }
};

// short minor ticks
const minorPlugin = {
  id: 'minor',
  afterDraw(chart, args, o) {
    const { ctx, chartArea: ca, scales: { x, y } } = chart;
    ctx.save();
    ctx.strokeStyle = AX;
    ctx.lineWidth = 1.5;
    ctx.beginPath();
    (o.y || []).forEach(v => { const p = y.getPixelForValue(v); ctx.moveTo(ca.left - 6, p); ctx.lineTo(ca.left, p); });
    (o.x || []).forEach(v => { const p = x.getPixelForValue(v); ctx.moveTo(p, ca.bottom); ctx.lineTo(p, ca.bottom + 7); });
    ctx.stroke();
    ctx.restore();
  }
};

const xAxisCfg = {
  type: 'linear', min: 0, max: 26, position: 'bottom',
  afterBuildTicks: s => { s.ticks = xTickDays.map(v => ({ value: v })); },
  afterFit: s => { s.height = 64.5; s.paddingLeft = 0; s.paddingRight = 0; },
  ticks: { color: '#000', font: { family: FONT, size: 18 }, padding: 13, maxRotation: 0, minRotation: 0,
           autoSkip: false, callback: (v, i) => xTickLabels[i] },
  grid: { drawOnChartArea: false, tickLength: 14, tickColor: AX, tickWidth: 1.5, color: AX },
  border: { color: AX, width: 1.5 },
  title: { display: true, text: 'Date', color: '#000', font: { family: FONT, size: 18 }, padding: { top: 0, bottom: -2 } }
};

function makePanel(id, top, height, padTop, padBottom, yCfg, datasets, extra) {
  extra = extra || {};
  const cv = document.getElementById(id);
  cv.width = 1291;
  cv.height = height;
  cv.style.top = top + 'px';
  cv.style.width = '1291px';
  cv.style.height = height + 'px';
  const last = !!extra.last;
  return new Chart(cv, {
    type: 'line',
    data: { datasets },
    options: {
      responsive: false, animation: false, events: [],
      layout: { padding: { top: padTop, bottom: padBottom, left: 0, right: 1 } },
      elements: { point: { radius: 0 }, line: { borderWidth: 1.2, tension: 0 } },
      plugins: {
        legend: { display: false }, tooltip: { enabled: false },
        shade: { first: !!extra.first, last: last },
        minor: { y: yCfg.minor, x: last ? xMinorDays : null }
      },
      scales: {
        x: last ? xAxisCfg : { type: 'linear', min: 0, max: 26, display: false },
        y: {
          min: yCfg.min, max: yCfg.max,
          afterBuildTicks: s => { s.ticks = yCfg.ticks.map(v => ({ value: v })); },
          afterFit: s => { s.width = 141; s.paddingTop = 0; s.paddingBottom = 0; },
          ticks: { color: '#000', font: { family: FONT, size: 18 }, padding: 9, autoSkip: false, callback: v => String(v) },
          grid: { drawOnChartArea: !!yCfg.grid, color: '#333', lineWidth: 1, tickLength: 12, tickColor: AX, tickWidth: 1.5 },
          border: { color: AX, width: 1.5, dash: yCfg.grid ? [1, 2] : [] }
        }
      }
    },
    plugins: [shadePlugin, minorPlugin]
  });
}

const line = (data, color, width, more) => Object.assign({ data, borderColor: color, borderWidth: width, spanGaps: false }, more || {});

makePanel('cSW', 14, 56, 2.1, 6.7, { min: -15, max: 700, ticks: swTicks, minor: swMinor },
  [line(swRad, '#000', 2.6, { pointRadius: 1.3, pointBackgroundColor: '#000', pointBorderWidth: 0 })], { first: true });

makePanel('cRH', 70, 110, 7.2, 8.5, { min: 38.5, max: 94.5, ticks: rhTicks },
  [line(relHum, '#000', 1.2)]);

makePanel('cT', 180, 110, 7.6, 8.2, { min: -1, max: 17.6, ticks: tTicks },
  [line(soilT, '#888', 3, { borderDash: [3, 3] }), line(airT, '#000', 1.2)]);

makePanel('cU', 290, 112, 7.4, 6.1, { min: -0.4, max: 17.2, ticks: uTicks, minor: uMinor },
  [line(windSpeed, '#000', 1.2)]);

makePanel('cWD', 402, 109, 5.9, 7, { min: 0, max: 360, ticks: wdTicks },
  [line(windDir, '#000', 1.2)]);

makePanel('cN', 511, 96, 7.7, 7, { min: 0, max: 1160, ticks: nTicks, minor: nMinor },
  [line(nPart, '#000', 1.2)]);

makePanel('cP', 607, 164, 8, 0, { min: -0.55, max: 4, ticks: ppbvTicks, grid: true },
  [line(formicAcid, '#ff0000', 1.2), line(aceticLow, '#707070', 1.2), line(aceticAcid, '#000', 1.2)], { last: true });
</script>
</body>
</html>
